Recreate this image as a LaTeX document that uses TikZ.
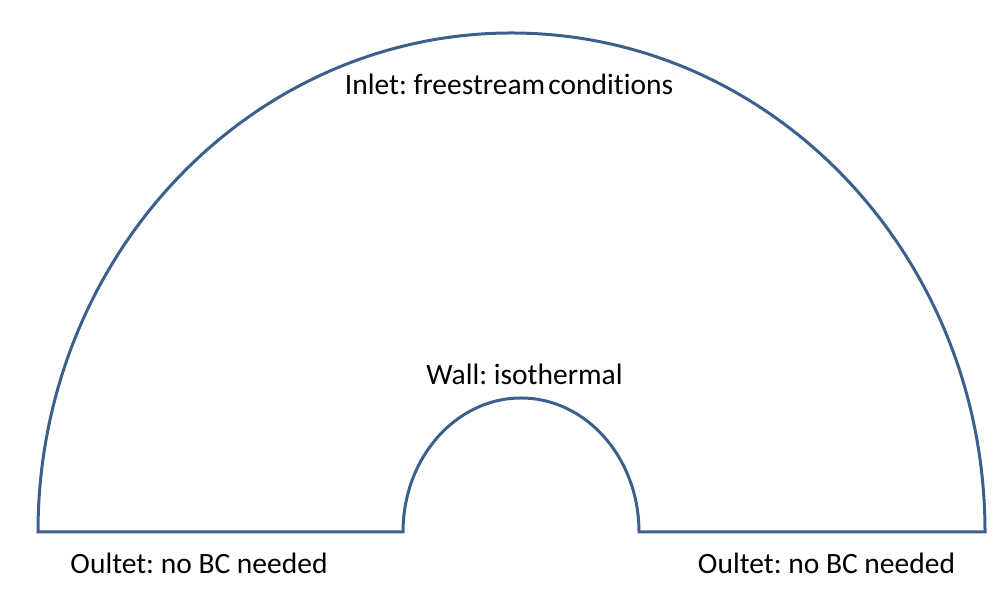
\documentclass[tikz,border=0pt]{standalone}
\usepackage{fontspec}
\setmainfont[Ligatures = NoCommon]{Carlito}
\usepackage{xcolor}
\usetikzlibrary{positioning}

\definecolor{edgeblue}{RGB}{60,96,142}
\frenchspacing

\begin{document}
\begin{tikzpicture}[ x = 1pt, y = 1pt
                     , font = \fontsize{29.5}{35}\selectfont
                     , boundary/.style = { draw = edgeblue
                                         , line width = 3pt
                                         , line join = miter }
                     , every node/.style = { align = center
                                         , inner sep = 0pt
                                         , anchor = base }
                     ]

  \useasboundingbox (0,0) rectangle (1006,612);

  % domain: outer half circle with the body cut out of the floor
  \coordinate (farleft) at (38,80);
  \coordinate (bodyleft) at (403,80);
  \coordinate (bodyright) at (639,80);
  \coordinate (farright) at (985,80);

  \draw[boundary] (farleft) -- (bodyleft)
    arc[start angle = 180, end angle = 0, x radius = 118, y radius = 134]
    -- (bodyright) -- (farright)
    arc[start angle = 0, end angle = 180, x radius = 473.5, y radius = 499]
    -- cycle;

  \node (inlet) at (509,517) {Inlet: freestream\hspace{-0.12em} conditions};
  \node (wall) at (524.5,227) {Wall: isothermal};
  \node (outletleft) at (199,38) {Oultet: no BC needed};
  \node (outletright) at (826.5,38) {Oultet: no BC needed};

\end{tikzpicture}
\end{document}
